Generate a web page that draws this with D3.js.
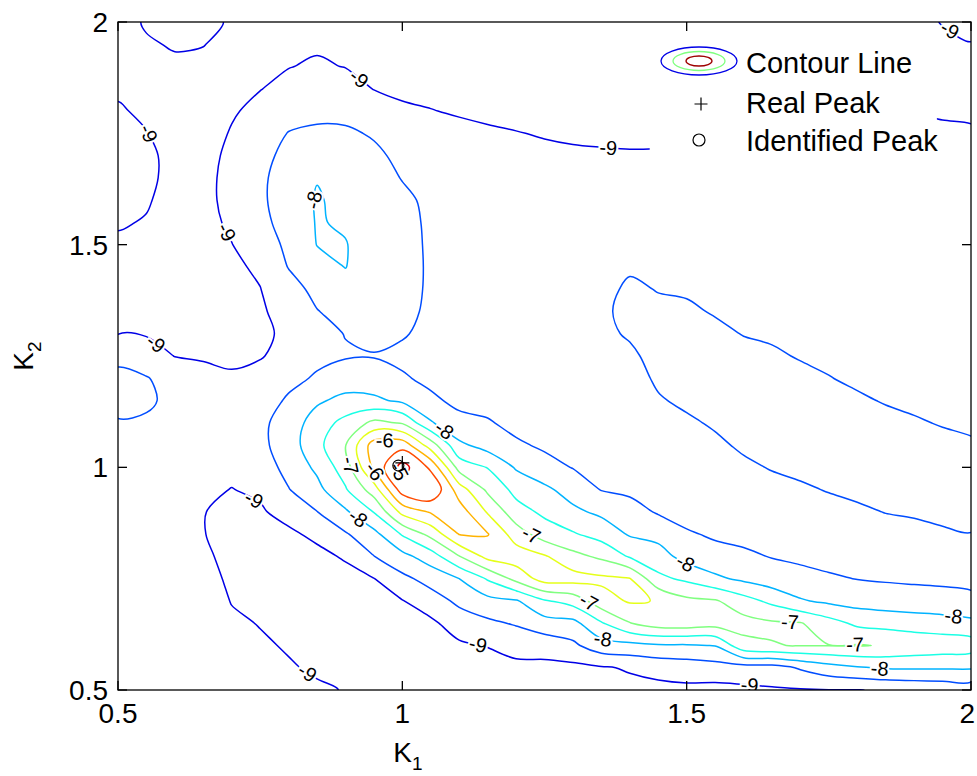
<!DOCTYPE html>
<html>
<head>
<meta charset="utf-8">
<script src="https://cdn.jsdelivr.net/npm/d3@7"></script>
<style>
  body { margin: 0; background: #fff; }
  text { font-family: "Liberation Sans", Arial, Helvetica, sans-serif; }
</style>
</head>
<body>
<svg id="chart" width="977" height="776"></svg>
<script>
// ---- grid of the log-likelihood surface (step 0.05 in both K1 and K2) ----
const k1Grid = [0.5,0.55,0.6,0.65,0.7,0.75,0.8,0.85,0.9,0.95,1.0,1.05,1.1,1.15,1.2,1.25,1.3,1.35,1.4,1.45,1.5,1.55,1.6,1.65,1.7,1.75,1.8,1.85,1.9,1.95,2.0];
const k2Grid = [2.0,1.95,1.9,1.85,1.8,1.75,1.7,1.65,1.6,1.55,1.5,1.45,1.4,1.35,1.3,1.25,1.2,1.15,1.1,1.05,1.0,0.95,0.9,0.85,0.8,0.75,0.7,0.65,0.6,0.55,0.5];

// one column per K1 value, entries follow k2Grid (top to bottom)
const surface = [
  [-9.2,-9.15,-9.1,-9.04,-8.97,-8.9,-8.86,-8.86,-8.9,-8.97,-9.05,-9.12,-9.12,-9.06,-9.01,-8.6,-8.4,-8.42,-8.52,-8.6,-8.68,-8.72,-8.74,-8.75,-8.76,-8.77,-8.78,-8.8,-8.82,-8.85,-8.88],
  [-8.95,-9.05,-9.12,-9.1,-9.05,-8.99,-8.93,-8.93,-8.97,-9.02,-9.1,-9.15,-9.15,-9.1,-9.03,-8.8,-8.47,-8.44,-8.55,-8.63,-8.7,-8.73,-8.75,-8.77,-8.78,-8.8,-8.8,-8.82,-8.84,-8.86,-8.9],
  [-8.85,-8.96,-9.08,-9.15,-9.15,-9.12,-9.1,-9.1,-9.12,-9.15,-9.18,-9.2,-9.18,-9.15,-9.1,-9.01,-8.72,-8.6,-8.62,-8.68,-8.72,-8.75,-8.77,-8.78,-8.8,-8.81,-8.82,-8.84,-8.86,-8.88,-8.9],
  [-8.88,-8.99,-9.08,-9.15,-9.18,-9.18,-9.15,-9.13,-9.13,-9.15,-9.18,-9.2,-9.2,-9.18,-9.12,-9.05,-8.85,-8.72,-8.72,-8.78,-8.85,-8.92,-8.99,-8.99,-8.95,-8.9,-8.87,-8.86,-8.87,-8.89,-8.9],
  [-9.05,-9.1,-9.13,-9.1,-9.04,-8.97,-8.9,-8.86,-8.86,-8.92,-9.01,-9.08,-9.12,-9.15,-9.12,-9.06,-8.96,-8.85,-8.8,-8.82,-8.9,-9.01,-9.08,-9.1,-9.08,-9.05,-9.01,-8.96,-8.93,-8.92,-8.92],
  [-9.15,-9.12,-9.08,-9.01,-8.9,-8.78,-8.66,-8.58,-8.57,-8.62,-8.75,-8.93,-9.01,-9.04,-9.05,-9.02,-8.9,-8.72,-8.6,-8.62,-8.75,-8.93,-9.05,-9.12,-9.13,-9.1,-9.05,-9.01,-8.97,-8.95,-8.94],
  [-9.12,-9.06,-9.01,-8.9,-8.72,-8.48,-8.35,-8.3,-8.3,-8.33,-8.4,-8.48,-8.7,-8.88,-8.95,-8.9,-8.62,-8.44,-8.3,-8.25,-8.35,-8.52,-8.85,-9.08,-9.18,-9.18,-9.13,-9.07,-9.02,-8.98,-8.96],
  [-9.1,-9.04,-8.96,-8.78,-8.6,-8.43,-8.2,-8.02,-7.96,-7.97,-7.99,-8.15,-8.36,-8.52,-8.6,-8.6,-8.45,-8.08,-7.75,-7.65,-7.9,-8.15,-8.51,-8.9,-9.12,-9.2,-9.2,-9.15,-9.1,-9.03,-8.97],
  [-9.15,-9.08,-9.01,-8.85,-8.65,-8.42,-8.25,-8.17,-8.12,-8.05,-7.98,-7.99,-8.15,-8.32,-8.49,-8.53,-8.3,-7.85,-7.35,-7.02,-7.25,-7.55,-8.08,-8.55,-8.95,-9.15,-9.22,-9.2,-9.15,-9.08,-9.01],
  [-9.2,-9.15,-9.08,-9.01,-8.8,-8.55,-8.4,-8.3,-8.25,-8.22,-8.22,-8.25,-8.3,-8.33,-8.4,-8.52,-8.3,-7.9,-6.88,-5.75,-5.9,-6.75,-7.48,-8.15,-8.51,-9.01,-9.25,-9.35,-9.35,-9.3,-9.25],
  [-9.25,-9.2,-9.15,-9.06,-8.95,-8.8,-8.62,-8.52,-8.4,-8.35,-8.33,-8.33,-8.35,-8.38,-8.46,-8.6,-8.45,-8.1,-7.05,-5.7,-4.8,-5.25,-6.35,-7.45,-8.15,-8.62,-9.02,-9.3,-9.4,-9.4,-9.35],
  [-9.28,-9.22,-9.15,-9.08,-8.99,-8.85,-8.72,-8.65,-8.6,-8.58,-8.57,-8.56,-8.56,-8.58,-8.62,-8.65,-8.6,-8.42,-7.95,-6.75,-5.6,-5.05,-5.95,-6.85,-7.75,-8.32,-8.72,-9.1,-9.35,-9.45,-9.42],
  [-9.3,-9.25,-9.18,-9.1,-9.03,-8.92,-8.82,-8.76,-8.72,-8.7,-8.69,-8.68,-8.68,-8.69,-8.7,-8.71,-8.7,-8.6,-8.38,-7.9,-7.2,-6.25,-5.75,-5.98,-7.02,-8.0,-8.4,-8.75,-9.08,-9.3,-9.38],
  [-9.32,-9.27,-9.2,-9.12,-9.06,-8.96,-8.88,-8.82,-8.78,-8.76,-8.75,-8.75,-8.75,-8.76,-8.77,-8.77,-8.75,-8.68,-8.45,-8.2,-7.52,-7.1,-6.55,-5.97,-6.35,-7.45,-8.15,-8.6,-8.98,-9.2,-9.3],
  [-9.33,-9.28,-9.22,-9.14,-9.08,-8.99,-8.92,-8.86,-8.83,-8.81,-8.8,-8.8,-8.8,-8.8,-8.8,-8.79,-8.78,-8.75,-8.65,-8.42,-8.05,-7.65,-7.3,-6.75,-6.22,-6.85,-8.05,-8.45,-8.85,-9.1,-9.22],
  [-9.33,-9.29,-9.23,-9.15,-9.09,-9.02,-8.94,-8.88,-8.85,-8.83,-8.82,-8.82,-8.82,-8.81,-8.8,-8.79,-8.77,-8.74,-8.68,-8.58,-8.32,-7.9,-7.6,-7.25,-6.45,-6.28,-7.55,-8.2,-8.8,-9.12,-9.2],
  [-9.33,-9.3,-9.24,-9.16,-9.1,-9.04,-8.96,-8.9,-8.85,-8.82,-8.8,-8.78,-8.75,-8.72,-8.7,-8.7,-8.72,-8.74,-8.72,-8.65,-8.52,-8.2,-7.9,-7.45,-6.85,-6.3,-7.3,-8.15,-8.6,-9.12,-9.2],
  [-9.33,-9.3,-9.24,-9.16,-9.1,-9.05,-8.97,-8.9,-8.83,-8.76,-8.7,-8.64,-8.57,-8.54,-8.56,-8.62,-8.68,-8.74,-8.75,-8.72,-8.65,-8.52,-8.1,-7.7,-7.1,-6.4,-6.7,-7.55,-8.2,-9.05,-9.18],
  [-9.32,-9.29,-9.23,-9.16,-9.1,-9.05,-8.98,-8.9,-8.8,-8.7,-8.6,-8.53,-8.46,-8.44,-8.47,-8.55,-8.63,-8.7,-8.74,-8.74,-8.7,-8.6,-8.3,-8.05,-7.55,-6.48,-6.45,-7.02,-8.15,-8.95,-9.15],
  [-9.3,-9.28,-9.22,-9.15,-9.1,-9.04,-8.98,-8.88,-8.78,-8.7,-8.62,-8.56,-8.51,-8.45,-8.41,-8.41,-8.45,-8.53,-8.62,-8.7,-8.75,-8.72,-8.55,-8.15,-7.8,-7.38,-6.52,-6.75,-8.05,-8.85,-9.12],
  [-9.28,-9.25,-9.2,-9.14,-9.08,-9.02,-8.96,-8.86,-8.77,-8.68,-8.62,-8.57,-8.53,-8.46,-8.4,-8.37,-8.38,-8.44,-8.55,-8.64,-8.7,-8.72,-8.66,-8.45,-8.18,-7.6,-6.88,-6.72,-8.05,-8.78,-9.1],
  [-9.27,-9.24,-9.19,-9.13,-9.07,-9.01,-8.94,-8.85,-8.76,-8.68,-8.62,-8.58,-8.55,-8.52,-8.44,-8.37,-8.35,-8.38,-8.46,-8.56,-8.65,-8.7,-8.68,-8.56,-8.35,-7.9,-6.95,-6.8,-7.98,-8.7,-9.15],
  [-9.26,-9.23,-9.18,-9.12,-9.06,-9.01,-8.93,-8.84,-8.76,-8.7,-8.65,-8.61,-8.58,-8.55,-8.51,-8.42,-8.35,-8.33,-8.37,-8.45,-8.56,-8.64,-8.67,-8.62,-8.42,-8.1,-7.3,-6.82,-7.15,-8.7,-9.1],
  [-9.25,-9.22,-9.17,-9.11,-9.05,-8.99,-8.92,-8.83,-8.76,-8.7,-8.66,-8.63,-8.6,-8.57,-8.54,-8.46,-8.38,-8.33,-8.33,-8.38,-8.48,-8.6,-8.67,-8.65,-8.52,-8.27,-7.62,-6.93,-7.02,-8.7,-9.05],
  [-9.24,-9.21,-9.16,-9.1,-9.04,-8.98,-8.91,-8.83,-8.76,-8.7,-8.67,-8.64,-8.62,-8.6,-8.57,-8.52,-8.43,-8.35,-8.31,-8.33,-8.42,-8.55,-8.65,-8.67,-8.58,-8.37,-7.95,-6.97,-6.98,-8.45,-9.03],
  [-9.23,-9.2,-9.15,-9.09,-9.03,-8.97,-8.9,-8.83,-8.77,-8.72,-8.68,-8.65,-8.63,-8.61,-8.59,-8.56,-8.49,-8.4,-8.32,-8.3,-8.36,-8.48,-8.62,-8.68,-8.63,-8.45,-8.1,-7.3,-6.99,-8.2,-9.01],
  [-9.22,-9.19,-9.14,-9.08,-9.02,-8.96,-8.9,-8.83,-8.77,-8.73,-8.69,-8.66,-8.64,-8.62,-8.6,-8.58,-8.55,-8.46,-8.36,-8.3,-8.32,-8.42,-8.56,-8.67,-8.66,-8.51,-8.2,-7.6,-6.97,-8.05,-9.01],
  [-9.21,-9.18,-9.13,-9.07,-9.01,-8.95,-8.89,-8.83,-8.77,-8.73,-8.7,-8.67,-8.65,-8.63,-8.61,-8.6,-8.58,-8.52,-8.42,-8.33,-8.3,-8.37,-8.49,-8.64,-8.68,-8.55,-8.25,-7.68,-7.03,-7.95,-8.96],
  [-9.2,-9.17,-9.12,-9.06,-9.01,-8.94,-8.88,-8.83,-8.78,-8.74,-8.71,-8.68,-8.66,-8.64,-8.63,-8.62,-8.6,-8.56,-8.47,-8.37,-8.3,-8.33,-8.46,-8.6,-8.67,-8.58,-8.28,-7.75,-7.13,-7.95,-8.9],
  [-8.97,-9.15,-9.11,-9.06,-9.02,-8.97,-8.9,-8.84,-8.79,-8.75,-8.72,-8.69,-8.67,-8.65,-8.64,-8.63,-8.62,-8.59,-8.52,-8.42,-8.33,-8.31,-8.41,-8.55,-8.65,-8.6,-8.32,-7.8,-7.2,-7.95,-8.85],
  [-8.85,-9.02,-9.08,-9.06,-9.04,-8.97,-8.9,-8.85,-8.8,-8.76,-8.73,-8.7,-8.68,-8.66,-8.65,-8.64,-8.63,-8.61,-8.56,-8.46,-8.36,-8.3,-8.37,-8.51,-8.63,-8.61,-8.4,-7.88,-7.26,-7.95,-8.8]
];

// contour levels and the colour range they are mapped onto (jet colormap)
const levels = [-9,-8.5,-8,-7.5,-7,-6.5,-6,-5.5,-5];
const colorRange = [-9.5,-4.5];

// region where the estimator returned no values
const noEstimate = { k1: [1.435, 1.94], k2: [1.6, 2.0] };

// axis ticks
const k1Ticks = [0.5, 1, 1.5, 2];
const k2Ticks = [0.5, 1, 1.5, 2];

// peaks
const realPeak = [1.0, 1.01];
const identifiedPeak = [0.993, 1.004];

// inline contour labels: level and approximate location
const contourLabels = [
  {level:-9, k1:0.908, k2:1.847}, {level:-9, k1:0.556, k2:1.751},
  {level:-9, k1:0.692, k2:1.529}, {level:-9, k1:0.565, k2:1.275},
  {level:-9, k1:1.362, k2:1.713}, {level:-9, k1:1.962, k2:1.98},
  {level:-8, k1:0.832, k2:1.60},  {level:-9, k1:0.741, k2:0.933},
  {level:-9, k1:0.838, k2:0.549}, {level:-9, k1:1.133, k2:0.601},
  {level:-9, k1:1.611, k2:0.516}, {level:-8, k1:1.071, k2:1.079},
  {level:-8, k1:0.926, k2:0.893}, {level:-7, k1:0.911, k2:1.005},
  {level:-6, k1:0.969, k2:1.061}, {level:-6, k1:0.95,  k2:0.99},
  {level:-5, k1:0.985, k2:0.985}, {level:-8, k1:1.494, k2:0.776},
  {level:-7, k1:1.224, k2:0.841}, {level:-7, k1:1.318, k2:0.675},
  {level:-8, k1:1.353, k2:0.619}, {level:-7, k1:1.682, k2:0.662},
  {level:-7, k1:1.796, k2:0.601}, {level:-8, k1:1.968, k2:0.653},
  {level:-8, k1:1.84,  k2:0.556}
];

// ---------------------------------------------------------------------
const svg = d3.select("#chart");
const x = d3.scaleLinear().domain([0.5, 2]).range([118, 971]);
const y = d3.scaleLinear().domain([0.5, 2]).range([690, 22]);

const nx = k1Grid.length, ny = k2Grid.length;
// contour grid coordinates -> data coordinates (samples sit at cell centres)
const gx = d3.scaleLinear().domain([0.5, nx - 0.5]).range([k1Grid[0], k1Grid[nx - 1]]);
const gy = d3.scaleLinear().domain([0.5, ny - 0.5]).range([k2Grid[0], k2Grid[ny - 1]]);

function jet(t) {
  const c = v => Math.max(0, Math.min(1, v));
  return d3.rgb(255 * c(1.5 - Math.abs(4 * t - 3)),
                255 * c(1.5 - Math.abs(4 * t - 2)),
                255 * c(1.5 - Math.abs(4 * t - 1))).formatHex();
}
const colorOf = L => jet((L - colorRange[0]) / (colorRange[1] - colorRange[0]));

const values = new Array(nx * ny);
for (let j = 0; j < ny; j++) for (let i = 0; i < nx; i++) values[j * nx + i] = surface[i][j];

const contours = d3.contours().size([nx, ny]).thresholds(levels)(values);

const defs = svg.append("defs");
defs.append("clipPath").attr("id", "plotArea")
  .append("rect").attr("x", x(0.5)).attr("y", y(2))
  .attr("width", x(2) - x(0.5)).attr("height", y(0.5) - y(2));
const mask = defs.append("mask").attr("id", "estimated")
  .attr("maskUnits", "userSpaceOnUse").attr("x", 0).attr("y", 0).attr("width", 977).attr("height", 776);
mask.append("rect").attr("x", 0).attr("y", 0).attr("width", 977).attr("height", 776).attr("fill", "white");
mask.append("rect")
  .attr("x", x(noEstimate.k1[0])).attr("y", y(noEstimate.k2[1]) - 2)
  .attr("width", x(noEstimate.k1[1]) - x(noEstimate.k1[0]))
  .attr("height", y(noEstimate.k2[0]) - y(noEstimate.k2[1]) + 2)
  .attr("fill", "black");

// convert every ring into pixel space
const isolines = contours.map(c => ({
  level: c.value,
  rings: c.coordinates.flatMap(poly => poly.map(ring => {
    const pts = ring.map(([a, b]) => [x(gx(a)), y(gy(b))]);
    const f = pts[0], l = pts[pts.length - 1];
    if (f[0] === l[0] && f[1] === l[1]) pts.pop();
    return pts;
  }))
}));

const line = d3.line().curve(d3.curveCatmullRomClosed.alpha(0.5));

const plot = svg.append("g").attr("clip-path", "url(#plotArea)");
const lines = plot.append("g").attr("mask", "url(#estimated)");
isolines.forEach(iso => {
  lines.selectAll(null).data(iso.rings).enter().append("path")
    .attr("d", line)
    .attr("fill", "none")
    .attr("stroke", colorOf(iso.level))
    .attr("stroke-width", 1.5)
    .attr("stroke-linejoin", "round");
});

// inline labels placed on the nearest point of their isoline
const inside = p => p[0] >= x(0.5) && p[0] <= x(2) && p[1] >= y(2) && p[1] <= y(0.5) &&
  !(p[0] > x(noEstimate.k1[0]) && p[0] < x(noEstimate.k1[1]) && p[1] < y(noEstimate.k2[0]));
const labelLayer = plot.append("g");
contourLabels.forEach(lab => {
  const iso = isolines.find(d => d.level === lab.level);
  const target = [x(lab.k1), y(lab.k2)];
  let best = null, bd = Infinity;
  iso.rings.forEach(ring => {
    const n = ring.length;
    for (let i = 0; i < n; i++) {
      const a = ring[i], b = ring[(i + 1) % n];
      const dx = b[0] - a[0], dy = b[1] - a[1];
      const len2 = dx * dx + dy * dy;
      if (!len2) continue;
      let t = ((target[0] - a[0]) * dx + (target[1] - a[1]) * dy) / len2;
      t = Math.max(0, Math.min(1, t));
      const p = [a[0] + t * dx, a[1] + t * dy];
      if (!inside(p)) continue;
      const d = Math.hypot(p[0] - target[0], p[1] - target[1]);
      if (d < bd) { bd = d; best = { p, ang: Math.atan2(dy, dx) * 180 / Math.PI }; }
    }
  });
  let pos = target, ang = 0;
  if (best && bd < 40) {
    pos = best.p;
    ang = best.ang;
    if (ang > 90) ang -= 180;
    if (ang < -90) ang += 180;
  }
  labelLayer.append("text")
    .attr("transform", `translate(${pos[0]},${pos[1]}) rotate(${ang})`)
    .attr("text-anchor", "middle").attr("dominant-baseline", "central")
    .attr("font-size", 20).attr("fill", "#000")
    .attr("stroke", "#fff").attr("stroke-width", 4).attr("paint-order", "stroke")
    .text(lab.level);
});

// peak markers
plot.append("path")
  .attr("d", `M${x(realPeak[0]) - 7},${y(realPeak[1])}H${x(realPeak[0]) + 7}M${x(realPeak[0])},${y(realPeak[1]) - 7}V${y(realPeak[1]) + 7}`)
  .attr("stroke", "#000").attr("stroke-width", 1.2);
plot.append("circle")
  .attr("cx", x(identifiedPeak[0])).attr("cy", y(identifiedPeak[1])).attr("r", 5.5)
  .attr("fill", "none").attr("stroke", "#000").attr("stroke-width", 1.2);

// ---- axes box, ticks, tick labels ----
const axes = svg.append("g").attr("stroke", "#000").attr("stroke-width", 1.3);
axes.append("rect").attr("x", x(0.5)).attr("y", y(2))
  .attr("width", x(2) - x(0.5)).attr("height", y(0.5) - y(2)).attr("fill", "none");
k1Ticks.forEach(t => {
  axes.append("line").attr("x1", x(t)).attr("x2", x(t)).attr("y1", y(0.5)).attr("y2", y(0.5) - 9);
  axes.append("line").attr("x1", x(t)).attr("x2", x(t)).attr("y1", y(2)).attr("y2", y(2) + 9);
});
k2Ticks.forEach(t => {
  axes.append("line").attr("x1", x(0.5)).attr("x2", x(0.5) + 9).attr("y1", y(t)).attr("y2", y(t));
  axes.append("line").attr("x1", x(2)).attr("x2", x(2) - 9).attr("y1", y(t)).attr("y2", y(t));
});
svg.append("g").selectAll("text").data(k1Ticks).enter().append("text")
  .attr("x", (d, i) => i === k1Ticks.length - 1 ? 975 : x(d))
  .attr("y", 723)
  .attr("text-anchor", (d, i) => i === k1Ticks.length - 1 ? "end" : "middle")
  .attr("font-size", 28).text(d => d);
svg.append("g").selectAll("text").data(k2Ticks).enter().append("text")
  .attr("x", 108).attr("y", d => y(d) + 10).attr("text-anchor", "end")
  .attr("font-size", 28).text(d => d);

// axis titles
const xt = svg.append("text").attr("x", 408).attr("y", 762).attr("text-anchor", "middle").attr("font-size", 28);
xt.append("tspan").text("K");
xt.append("tspan").attr("font-size", 19).attr("dy", 8).text("1");
const yt = svg.append("text").attr("transform", "translate(33,356) rotate(-90)")
  .attr("text-anchor", "middle").attr("font-size", 28);
yt.append("tspan").text("K");
yt.append("tspan").attr("font-size", 19).attr("dy", 8).text("2");

// ---- legend ----
const lg = svg.append("g");
[[38, 14, colorOf(-9)], [26, 9.5, colorOf(-7)], [13, 5, jet(0.97)]].forEach(([rx, ry, col]) => {
  lg.append("ellipse").attr("cx", 699).attr("cy", 61).attr("rx", rx).attr("ry", ry)
    .attr("fill", "none").attr("stroke", col).attr("stroke-width", 1.3);
});
lg.append("path").attr("d", "M694.5,104H707.5M701,97.5V110.5").attr("stroke", "#000").attr("stroke-width", 1.2);
lg.append("circle").attr("cx", 699).attr("cy", 140).attr("r", 6)
  .attr("fill", "none").attr("stroke", "#000").attr("stroke-width", 1.2);
[["Contour Line", 73], ["Real Peak", 113], ["Identified Peak", 151]].forEach(([t, yy]) => {
  lg.append("text").attr("x", 746).attr("y", yy).attr("font-size", 29).text(t);
});
</script>
</body>
</html>
